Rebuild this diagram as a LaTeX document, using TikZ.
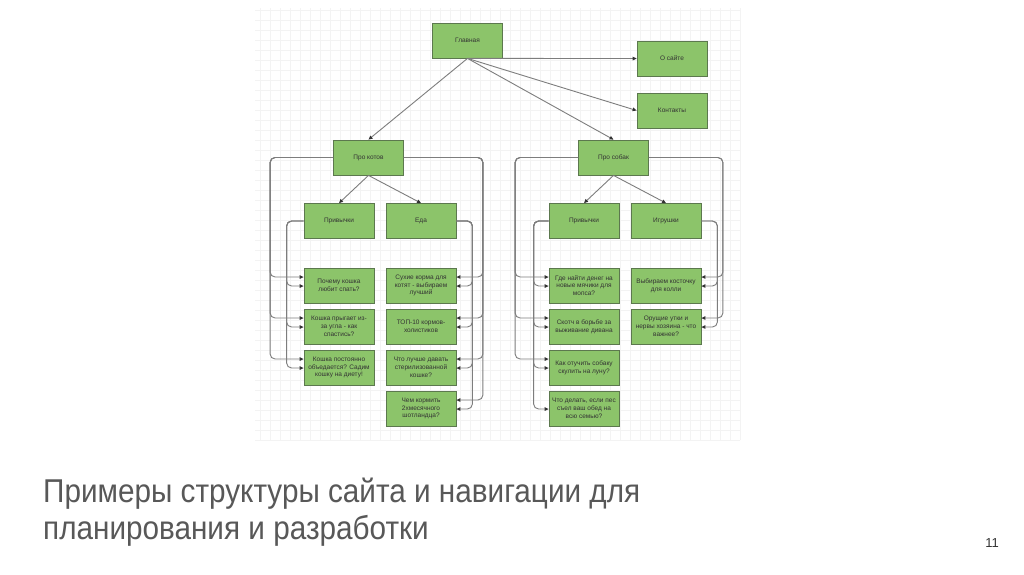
\documentclass[tikz,border=0pt]{standalone}
\usepackage{fontspec}
\setmainfont{Liberation Sans}
\newfontfamily\captionfont[FakeStretch=0.9]{Liberation Sans}
\usetikzlibrary{arrows.meta, calc}

\definecolor{boxfill}{RGB}{140,196,106}
\definecolor{boxline}{RGB}{92,120,78}
\definecolor{linkgray}{RGB}{125,125,125}
\definecolor{gridgray}{RGB}{243,243,243}
\definecolor{titlegray}{RGB}{88,88,88}

\tikzset{
  pagebox/.style={draw=boxline, fill=boxfill, line width=0.8pt,
    minimum width=70pt, minimum height=35pt, inner sep=1pt,
    align=center, font=\fontsize{6.5}{7.8}\selectfont, text=black!80},
  link/.style={draw=linkgray, line width=0.9pt, rounded corners=5pt,
    -{Triangle[length=4pt, width=3.6pt, color=black!80]}},
  gridline/.style={draw=gridgray, line width=0.4pt}
}

\begin{document}
\begin{tikzpicture}[x=1pt, y=-1pt]

\useasboundingbox (0,0) rectangle (1024,574);
\fill[white] (0,0) rectangle (1024,574);

% background grid of the editor
\draw[gridline, step=10pt] (255,8) grid (740,440);

% top level
\node[pagebox] (main) at (467.5,40.5) {Главная};
\node[pagebox] (about) at (672,58.5) {О сайте};
\node[pagebox] (contacts) at (672,110.5) {Контакты};

\node[pagebox] (cats) at (368.5,157.5) {Про котов};
\node[pagebox] (dogs) at (613.5,157.5) {Про собак};

\node[pagebox] (cathab) at (339,221) {Привычки};
\node[pagebox] (catfood) at (421,221) {Еда};
\node[pagebox] (doghab) at (584,221) {Привычки};
\node[pagebox] (dogtoy) at (666,221) {Игрушки};

% articles
\foreach \txt [count=\i] in {{Почему кошка\\любит спать?},
    {Кошка прыгает из-\\за угла - как\\спастись?},
    {Кошка постоянно\\объедается? Садим\\кошку на диету!}}
  \node[pagebox] (kh\i) at (339,{244.5+41*\i}) {\txt};

\foreach \txt [count=\i] in {{Сухие корма для\\котят - выбираем\\лучший},
    {ТОП-10 кормов-\\холистиков},
    {Что лучше давать\\стерилизованной\\кошке?},
    {Чем кормить\\2хмесячного\\шотландца?}}
  \node[pagebox] (kf\i) at (421,{244.5+41*\i}) {\txt};

\foreach \txt [count=\i] in {{Где найти денег на\\новые мячики для\\мопса?},
    {Скотч в борьбе за\\выживание дивана},
    {Как отучить собаку\\скулить на луну?},
    {Что делать, если пес\\съел ваш обед на\\всю семью?}}
  \node[pagebox] (dh\i) at (584,{244.5+41*\i}) {\txt};

\foreach \txt [count=\i] in {{Выбираем косточку\\для колли},
    {Орущие утки и\\нервы хозяина - что\\важнее?}}
  \node[pagebox] (dt\i) at (666,{244.5+41*\i}) {\txt};

% links from the main page
\draw[link] (main.south) -- (about.west);
\draw[link] (main.south) -- (contacts.west);
\draw[link] (main.south) -- (cats.north);
\draw[link] (main.south) -- (dogs.north);

\draw[link] (cats.south) -- (cathab.north);
\draw[link] (cats.south) -- (catfood.north);
\draw[link] (dogs.south) -- (doghab.north);
\draw[link] (dogs.south) -- (dogtoy.north);

% side links down to the articles
\foreach \i in {1,2,3} {
  \draw[link] (cats.west) -- ++(-63,0) |- ($(kh\i.west)+(0,-8.5)$);
  \draw[link] (cathab.west) -- ++(-17,0) |- ($(kh\i.west)+(0,0.5)$);
}
\foreach \i in {1,...,4} {
  \draw[link] (cats.east) -- ++(79,0) |- ($(kf\i.east)+(0,-8.5)$);
  \draw[link] (catfood.east) -- ++(16,0) |- ($(kf\i.east)+(0,0.5)$);
  \draw[link] (doghab.west) -- ++(-15,0) |- ($(dh\i.west)+(0,0.5)$);
}
\foreach \i in {1,2,3}
  \draw[link] (dogs.west) -- ++(-63,0) |- ($(dh\i.west)+(0,-8.5)$);
\foreach \i in {1,2} {
  \draw[link] (dogs.east) -- ++(74,0) |- ($(dt\i.east)+(0,-8.5)$);
  \draw[link] (dogtoy.east) -- ++(16,0) |- ($(dt\i.east)+(0,0.5)$);
}

% caption
\node[anchor=north west, inner sep=0pt, align=left, text=titlegray,
  font=\captionfont\fontsize{33}{37}\selectfont] (title) at (43,478)
  {Примеры структуры сайта и навигации для\\планирования и разработки};
\node[text=black!80, font=\fontsize{13}{15}\selectfont] (pagenum) at (992,543) {11};

\end{tikzpicture}
\end{document}
